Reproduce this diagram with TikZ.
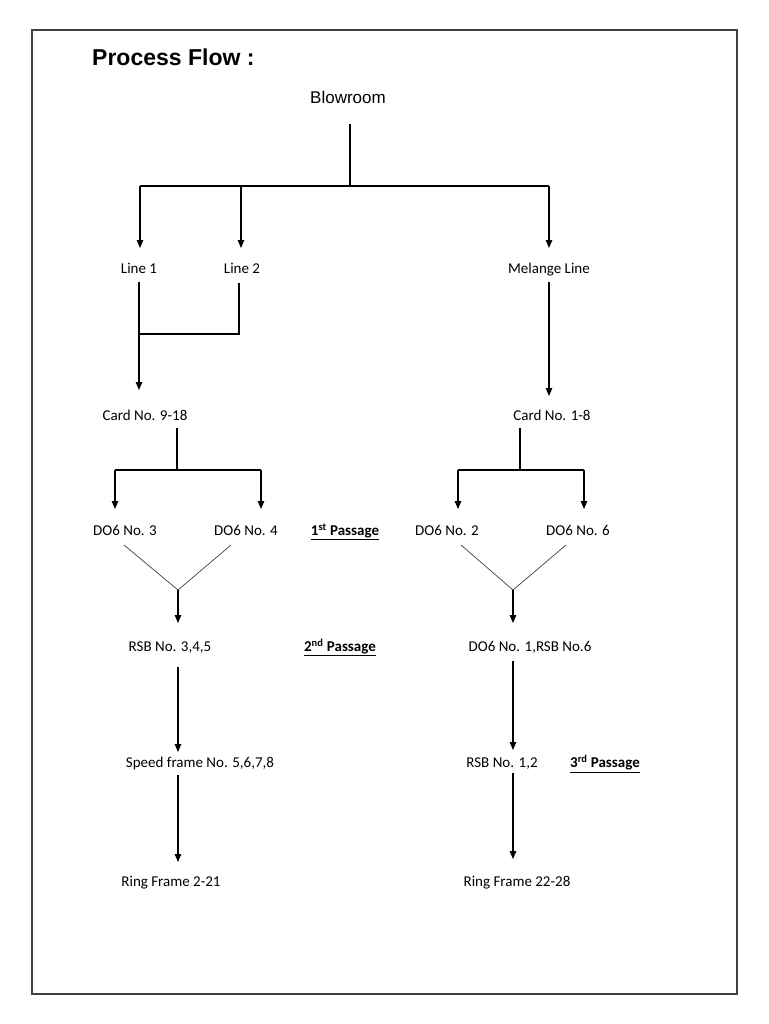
\documentclass[tikz,border=0pt]{standalone}
\usepackage{fontspec}
\setmainfont{Carlito}
\newfontfamily\arialf{Liberation Sans}
\usetikzlibrary{arrows.meta}
\begin{document}
\begin{tikzpicture}[x=1pt,y=-1pt,
  lbl/.style={font=\fontsize{15}{18}\selectfont, inner sep=0pt, anchor=center, text height=11pt, text depth=3.5pt, yshift=-2pt},
  pas/.style={font=\fontsize{15}{18}\selectfont\bfseries, inner sep=0pt, anchor=center, text height=11pt, text depth=3.5pt, yshift=-2pt},
  conn/.style={line width=1.1pt, black},
  arr/.style={line width=1.1pt, black, -{Triangle[width=6.5pt,length=8pt]}},
  vline/.style={line width=0.7pt, black!75}]
\useasboundingbox (0,0) rectangle (768,1024);
\draw[line width=1.3pt, black!75] (32,30) rectangle (737,994);
% texts
\node[inner sep=0pt, anchor=west, font=\arialf\bfseries\fontsize{23}{26}\selectfont] (title) at (92,57) {Process Flow :};
\node[inner sep=0pt, font=\arialf\fontsize{17}{20}\selectfont] (blow) at (348,97) {Blowroom};
\node[lbl] (line1) at (139,268) {Line 1};
\node[lbl] (line2) at (242,268) {Line 2};
\node[lbl] (mel) at (549,268) {Melange Line};
\node[lbl] (card1) at (145,415) {Card No. 9-18};
\node[lbl] (card2) at (552,415) {Card No. 1-8};
\node[lbl] (do3) at (125,530) {DO6 No. 3};
\node[lbl] (do4) at (246,530) {DO6 No. 4};
\node[pas] (p1) at (345,530) {\underline{1\textsuperscript{st} Passage}};
\node[lbl] (do2) at (447,530) {DO6 No. 2};
\node[lbl] (do6) at (578,530) {DO6 No. 6};
\node[lbl] (rsb1) at (170,646) {RSB No. 3,4,5};
\node[pas] (p2) at (340,646) {\underline{2\textsuperscript{nd} Passage}};
\node[lbl] (do1) at (530,646) {DO6 No. 1,RSB No.6};
\node[lbl] (speed) at (200,762) {Speed frame No. 5,6,7,8};
\node[lbl] (rsb2) at (502,762) {RSB No. 1,2};
\node[pas] (p3) at (605,762) {\underline{3\textsuperscript{rd} Passage}};
\node[lbl] (ring1) at (171,881) {Ring Frame 2-21};
\node[lbl] (ring2) at (517,881) {Ring Frame 22-28};
% junction coordinates
\coordinate (b0) at (350,124);
\coordinate (b1) at (350,186);
\coordinate (h1) at (140,186);
\coordinate (h2) at (241,186);
\coordinate (h3) at (549,186);
\coordinate (t1) at (140,248);
\coordinate (t2) at (241,248);
\coordinate (t3) at (549,248);
\coordinate (l1s) at (139,282);
\coordinate (l2s) at (239,283);
\coordinate (l2j) at (239,334);
\coordinate (l1j) at (139,334);
\coordinate (c1t) at (139,390);
\coordinate (ms) at (549,282);
\coordinate (c2t) at (549,396);
\coordinate (c1s) at (177,428);
\coordinate (c1j) at (177,470);
\coordinate (c1a) at (115,470);
\coordinate (c1b) at (261,470);
\coordinate (d3t) at (115,509);
\coordinate (d4t) at (261,509);
\coordinate (c2s) at (520,428);
\coordinate (c2j) at (520,470);
\coordinate (c2a) at (458,470);
\coordinate (c2b) at (584,470);
\coordinate (d2t) at (458,509);
\coordinate (d6t) at (584,509);
\coordinate (v1a) at (124,545);
\coordinate (v1b) at (231,545);
\coordinate (v1m) at (178,590);
\coordinate (r1t) at (178,623);
\coordinate (v2a) at (461,545);
\coordinate (v2b) at (566,545);
\coordinate (v2m) at (513,590);
\coordinate (o1t) at (513,623);
\coordinate (r1s) at (178,667);
\coordinate (spt) at (178,752);
\coordinate (sps) at (178,775);
\coordinate (g1t) at (178,862);
\coordinate (o1s) at (513,661);
\coordinate (r2t) at (513,750);
\coordinate (r2s) at (513,773);
\coordinate (g2t) at (513,859);
% connectors
\draw[line width=2pt] (b0) -- (b1);
\draw[conn] (h1) -- (h3);
\draw[line width=2pt] (h2) -- (b1);
\draw[arr] (h1) -- (t1);
\draw[arr] (h2) -- (t2);
\draw[arr] (h3) -- (t3);
\draw[conn] (l2s) -- (l2j) -- (l1j);
\draw[arr] (l1s) -- (c1t);
\draw[arr] (ms) -- (c2t);
\draw[conn] (c1s) -- (c1j);
\draw[conn] (c1a) -- (c1b);
\draw[arr] (c1a) -- (d3t);
\draw[arr] (c1b) -- (d4t);
\draw[conn] (c2s) -- (c2j);
\draw[conn] (c2a) -- (c2b);
\draw[arr] (c2a) -- (d2t);
\draw[arr] (c2b) -- (d6t);
\draw[vline] (v1a) -- (v1m) -- (v1b);
\draw[arr] (v1m) -- (r1t);
\draw[vline] (v2a) -- (v2m) -- (v2b);
\draw[arr] (v2m) -- (o1t);
\draw[arr] (r1s) -- (spt);
\draw[arr] (sps) -- (g1t);
\draw[arr] (o1s) -- (r2t);
\draw[arr] (r2s) -- (g2t);
\end{tikzpicture}
\end{document}
